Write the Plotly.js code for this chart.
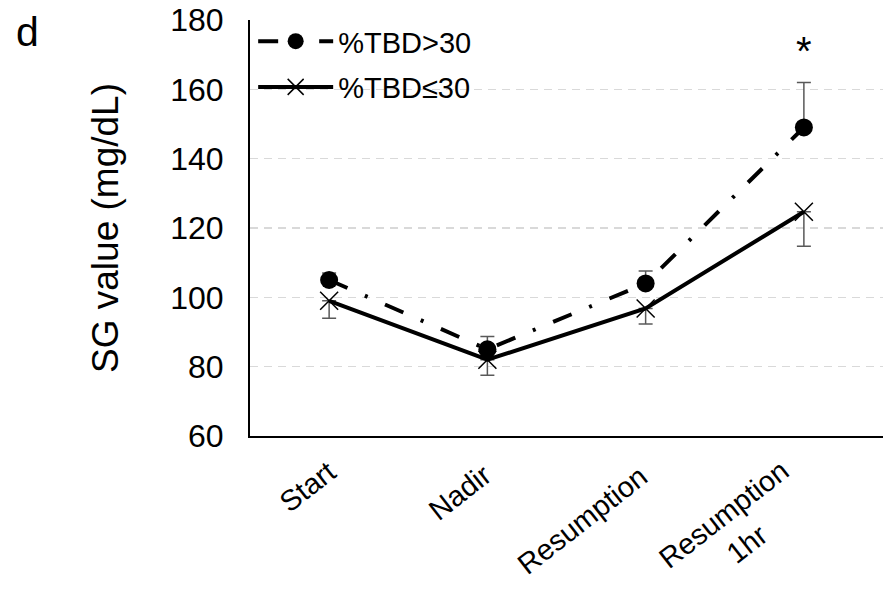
<!DOCTYPE html>
<html>
<head>
<meta charset="utf-8">
<script src="https://cdn.plot.ly/plotly-3.0.1.min.js"></script>
<style>html,body{margin:0;padding:0;background:#fff;}#chart{width:887px;height:590px;}</style>
</head>
<body>
<div id="chart"></div>
<script>
var categories = ["Start", "Nadir", "Resumption", "Resumption<br>1hr"];
var tbdHigh = [105, 85, 104, 149];
var tbdHighErr = [2, 3.7, 3.6, 13];
var tbdLow = [99, 82, 96.8, 124.7];
var tbdLowErr = [5, 4.5, 4.5, 10];
var seriesNames = ["%TBD>30", "%TBD≤30"];
var sigLabel = "*";
var sigIndex = 3;
var sigValue = 171;

var FONT = "Liberation Sans, Arial, sans-serif";

var traces = [
  {
    x: categories, y: tbdHigh, name: seriesNames[0], legendgroup: "a", type: "scatter", mode: "lines+markers",
    line: {color: "#000", width: 4, dash: "20px,19px,3px,19px"},
    marker: {symbol: "circle", size: 18, color: "#000"},
    error_y: {type: "data", array: tbdHighErr, symmetric: false, arrayminus: tbdHighErr.map(function(){return 0;}), color: "#595959", thickness: 1.5, width: 7}
  },
  {
    x: categories, y: tbdLow, name: seriesNames[1], legendgroup: "b", type: "scatter", mode: "lines+markers",
    line: {color: "#000", width: 4},
    marker: {symbol: "x-thin-open", size: 18, color: "#000", line: {color: "#000", width: 1.5}},
    error_y: {type: "data", array: tbdLowErr.map(function(){return 0;}), symmetric: false, arrayminus: tbdLowErr, color: "#595959", thickness: 1.5, width: 7}
  }
];

// rotated category labels (pixel offsets of each rotated label centre from its tick)
var labelShiftX = [-22, -27, -63, -68];
var labelShiftY = [-51, -56, -84, -93];

var annotations = categories.map(function(c, i) {
  return {x: c, y: 0, xref: "x", yref: "paper", text: c, showarrow: false, textangle: -38,
          xanchor: "center", yanchor: "middle", xshift: labelShiftX[i], yshift: labelShiftY[i],
          font: {family: FONT, size: 29, color: "#000"}};
});
annotations.push({x: categories[sigIndex], y: sigValue, xref: "x", yref: "y", text: sigLabel, showarrow: false,
  font: {family: FONT, size: 40, color: "#000"}});
annotations.push({x: (14 - 250) / 633, y: 1 - (7 - 20) / 416, xref: "paper", yref: "paper", text: "d", showarrow: false,
  xanchor: "left", yanchor: "top",
  font: {family: FONT, size: 41, color: "#000"}});

var layout = {
  width: 887, height: 590,
  margin: {l: 250, r: 4, t: 20, b: 154},
  paper_bgcolor: "#fff", plot_bgcolor: "#fff",
  font: {family: FONT, color: "#000"},
  showlegend: true,
  legend: {x: 0.005, y: 1.01, xanchor: "left", yanchor: "top", bgcolor: "rgba(0,0,0,0)", itemwidth: 75,
           traceorder: "grouped", tracegroupgap: 5,
           font: {family: FONT, size: 29, color: "#000"}},
  xaxis: {
    type: "category", range: [-0.5, 3.5], showline: true, linecolor: "#000", linewidth: 2,
    showgrid: false, zeroline: false, ticks: "", showticklabels: false
  },
  yaxis: {
    range: [60, 180], dtick: 20, tick0: 60, showline: true, linecolor: "#000", linewidth: 2,
    showgrid: true, gridcolor: "#d9d9d9", gridwidth: 1.5, griddash: "8px,6px", zeroline: false, ticks: "",
    ticklabelstandoff: 18,
    tickfont: {family: FONT, size: 32, color: "#000"},
    title: {text: "SG value (mg/dL)", font: {family: FONT, size: 37, color: "#000"}, standoff: 40}
  },
  annotations: annotations
};

Plotly.newPlot("chart", traces, layout, {displayModeBar: false, staticPlot: true});
</script>
</body>
</html>
